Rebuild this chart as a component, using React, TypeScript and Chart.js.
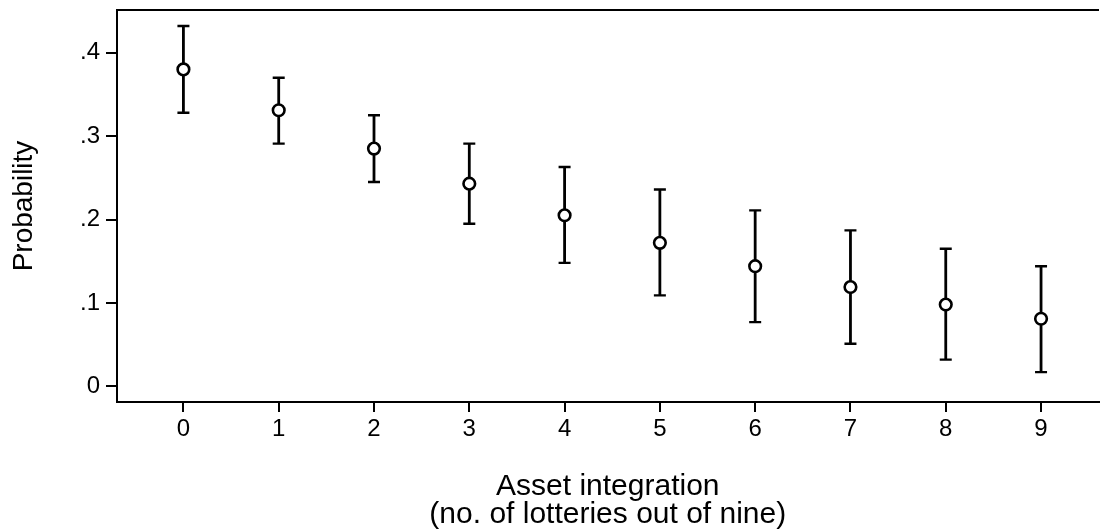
import React, { useEffect, useRef } from 'react';
import { Chart, registerables } from 'chart.js';

Chart.register(...registerables);

// ---- data ----
const lotteries = [0, 1, 2, 3, 4, 5, 6, 7, 8, 9];
const probability = [0.380, 0.331, 0.285, 0.243, 0.205, 0.172, 0.144, 0.119, 0.098, 0.081];
const ciUpper = [0.432, 0.370, 0.325, 0.291, 0.263, 0.236, 0.211, 0.187, 0.165, 0.144];
const ciLower = [0.328, 0.291, 0.245, 0.195, 0.148, 0.109, 0.077, 0.051, 0.032, 0.017];

const xTickValues = [0, 1, 2, 3, 4, 5, 6, 7, 8, 9];
const xTickLabels = ['0', '1', '2', '3', '4', '5', '6', '7', '8', '9'];
const yTickValues = [0, 0.1, 0.2, 0.3, 0.4];
const yTickLabels = ['0', '.1', '.2', '.3', '.4'];

const yTitle = 'Probability';
const xTitle = ['Asset integration', '(no. of lotteries out of nine)'];

const X_MIN = -0.697;
const X_MAX = 9.604;
const Y_MIN = -0.0188;
const Y_MAX = 0.4512;

const FONT = '"Liberation Sans", Arial, Helvetica, sans-serif';
const INK = '#000';

export default function App() {
  const ref = useRef<HTMLCanvasElement | null>(null);

  useEffect(() => {
    const canvas = ref.current;
    if (!canvas) return;

    const meanPoints = lotteries.map((x, i) => ({ x, y: probability[i] }));
    const ciSegments = lotteries.flatMap((x, i) => [
      { x, y: ciLower[i] },
      { x, y: ciUpper[i] },
      { x, y: null as any },
    ]);

    const chart = new Chart(canvas, {
      type: 'line',
      data: {
        datasets: [
          {
            label: 'Probability',
            data: meanPoints,
            xAxisID: 'x',
            yAxisID: 'y',
            showLine: false,
            pointStyle: 'circle',
            pointRadius: 5.8,
            pointBorderWidth: 2.6,
            pointBorderColor: INK,
            pointBackgroundColor: '#fff',
            order: 0,
          } as any,
          {
            label: 'CI',
            data: ciSegments,
            xAxisID: 'x',
            yAxisID: 'y',
            borderColor: INK,
            borderWidth: 2.8,
            spanGaps: false,
            pointStyle: 'line',
            pointRadius: 6,
            pointBorderWidth: 2.4,
            pointBorderColor: INK,
            pointBackgroundColor: INK,
            order: 1,
          } as any,
        ],
      },
      options: {
        animation: false,
        responsive: false,
        events: [],
        plugins: {
          legend: { display: false },
          tooltip: { enabled: false },
        },
        layout: { padding: { top: 10, left: 0, right: 0, bottom: 0 } },
        scales: {
          x: {
            type: 'linear',
            axis: 'x',
            position: 'bottom',
            min: X_MIN,
            max: X_MAX,
            afterBuildTicks: (s: any) => {
              s.ticks = xTickValues.map((v) => ({ value: v }));
            },
            ticks: {
              callback: (_v: any, i: number) => xTickLabels[i],
              font: { family: FONT, size: 24 },
              color: INK,
              padding: 3,
              maxRotation: 0,
              autoSkip: false,
            },
            grid: {
              display: true,
              drawOnChartArea: false,
              drawTicks: true,
              tickLength: 10,
              tickWidth: 2,
              tickColor: INK,
              lineWidth: 2,
              color: INK,
            },
            border: { display: true, color: INK, width: 2 },
            title: {
              display: true,
              text: xTitle,
              color: INK,
              font: { family: FONT, size: 30, lineHeight: 0.943 },
              padding: { top: 0, bottom: 2 },
            },
            afterFit: (s: any) => {
              s.height = 129;
              s.paddingLeft = 0;
              s.paddingRight = 0;
            },
          } as any,
          xTop: {
            type: 'linear',
            axis: 'x',
            position: 'top',
            min: X_MIN,
            max: X_MAX,
            ticks: { display: false },
            grid: { display: false, drawTicks: false },
            border: { display: true, color: INK, width: 2 },
            afterFit: (s: any) => {
              s.height = 0;
              s.paddingLeft = 0;
              s.paddingRight = 0;
            },
          } as any,
          y: {
            type: 'linear',
            axis: 'y',
            position: 'left',
            min: Y_MIN,
            max: Y_MAX,
            afterBuildTicks: (s: any) => {
              s.ticks = yTickValues.map((v) => ({ value: v }));
            },
            ticks: {
              callback: (_v: any, i: number) => yTickLabels[i],
              font: { family: FONT, size: 24 },
              color: INK,
              padding: 6,
              autoSkip: false,
            },
            grid: {
              display: true,
              drawOnChartArea: false,
              drawTicks: true,
              tickLength: 11,
              tickWidth: 2,
              tickColor: INK,
              lineWidth: 2,
              color: INK,
            },
            border: { display: true, color: INK, width: 2 },
            title: {
              display: true,
              text: yTitle,
              color: INK,
              font: { family: FONT, size: 28 },
              padding: { top: 7, bottom: 0 },
            },
            afterFit: (s: any) => {
              s.width = 117;
              s.paddingTop = 0;
              s.paddingBottom = 0;
            },
          } as any,
        },
      },
    });

    return () => chart.destroy();
  }, []);

  return (
    <div style={{ position: 'absolute', left: 0, top: 0, width: 1107, height: 531, background: '#fff' }}>
      <canvas ref={ref} width={1107} height={531} style={{ display: 'block' }} />
    </div>
  );
}
